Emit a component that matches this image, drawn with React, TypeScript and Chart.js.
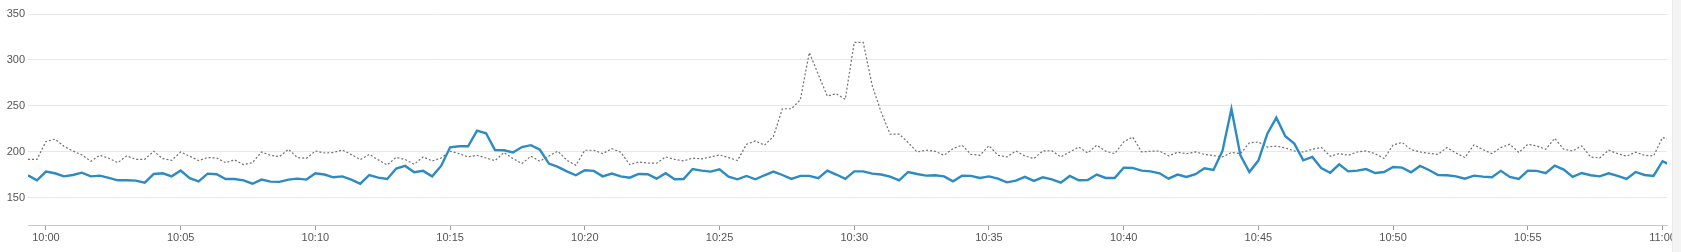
import React, { useEffect, useRef } from "react";
import { Chart, registerables } from "chart.js";

Chart.register(...registerables);

// Sample times: seconds relative to 10:00:00, one sample every 20 s starting 9:59:20
const START_SECONDS = -40;
const STEP_SECONDS = 20;

const blueValues: number[] = [
  174.2, 168.7, 178.2, 176.4, 173, 174.5, 177, 173, 173.8, 171.3,
  168.7, 168.7, 168.4, 166.2, 175.6, 176.4, 173, 179.3, 171, 167.6,
  176, 175.3, 170.2, 170.2, 168.7, 165, 169.5, 167.3, 167, 169.5,
  170.5, 169.5, 176.4, 175, 172, 173, 169.5, 165, 174.5, 171.6,
  170.2, 181.5, 184.4, 177.5, 179, 173, 184.4, 204.7, 205.8, 205.8,
  222.9, 220, 201.8, 201.5, 199, 205, 207, 202, 187, 183.3,
  178.5, 174.2, 179.6, 179, 173, 176, 173, 171.6, 175.6, 175.3,
  170.5, 176.4, 169.8, 170.2, 181, 179.3, 178.2, 180.7, 172.7, 169.8,
  173.5, 169.8, 174.2, 178.2, 174.5, 170.2, 173.5, 173.5, 171, 179.3,
  175, 170.2, 178.5, 178.5, 176, 175, 172.7, 168.7, 177.8, 175.6,
  173.8, 174.2, 173, 167.6, 173.8, 173.5, 171.3, 173, 170.5, 166.5,
  168.4, 172.4, 168, 172, 169.8, 166.2, 173.5, 168.7, 169, 175,
  171.3, 171.3, 182.5, 182.2, 179.3, 178.5, 176.4, 170.5, 175, 172.4,
  175.3, 181.8, 180, 200.7, 246.5, 196, 177.8, 190.2, 219.6, 237,
  216.7, 208.7, 190.5, 194.2, 182.2, 177, 186.2, 178.5, 179.3, 181,
  176.7, 177.8, 183.3, 182.5, 177.5, 184.4, 180, 174.5, 174.2, 173,
  170.5, 173.8, 172.7, 172, 179, 172.4, 170.2, 179.3, 179, 176.4,
  184.7, 180.4, 172.4, 176.7, 174.2, 173, 176.4, 173.5, 170.2, 177.8,
  174.5, 173.5, 189.5, 184.7,
];

const grayValues: number[] = [
  191.6, 191.6, 211, 213.5, 205.8, 200.7, 196.4, 189.5, 196, 192.7,
  188, 195.3, 191.6, 191.6, 200.4, 192.4, 190.5, 199.6, 195, 190.2,
  193.5, 193, 188, 191, 185.8, 188, 199.6, 196, 194.5, 202.5,
  193.5, 192.7, 200.7, 198.5, 199, 201.8, 196.7, 191.3, 197, 191,
  185.5, 193.8, 191.3, 186.2, 194.2, 189.8, 193, 200.4, 197.8, 194.2,
  196, 193, 190.2, 199, 192.4, 187, 195, 189.5, 195.3, 200.4,
  190.5, 185, 201.5, 201.5, 197.8, 203.3, 199.3, 185.8, 188.7, 187.6,
  187.3, 194.2, 191.6, 189.8, 193, 192, 194.2, 196.4, 193.5, 190.2,
  208, 211.6, 207, 216.5, 246.7, 246.7, 256.5, 308, 284, 260.6,
  263, 257, 319, 319, 272, 243, 219, 219, 210, 199.6,
  201.5, 200.4, 196, 203.3, 207, 197, 196, 206.5, 196, 194.2,
  200.7, 195.3, 192.4, 200.7, 201, 194.2, 199.6, 205, 198.5, 207,
  200.4, 197.8, 210.5, 216, 199.6, 200.4, 200.7, 195.3, 199.3, 197.8,
  199.6, 197, 195.6, 194.2, 199, 197.8, 209.5, 210.5, 205, 206,
  204, 200.7, 199.6, 202.5, 204.7, 195, 197.8, 196, 199.6, 200.7,
  197.8, 192.4, 207.3, 210, 202.2, 199.6, 198.2, 197, 204.4, 198.5,
  193.5, 207.3, 202.2, 197.8, 204.4, 208, 199, 208, 206.2, 202.5,
  214.5, 202.5, 200.7, 206.2, 194.2, 193, 201.5, 197.8, 195, 199.3,
  196, 195.3, 215.3, 213,
];

const xTickSeconds: number[] = [0, 300, 600, 900, 1200, 1500, 1800, 2100, 2400, 2700, 3000, 3300, 3600];
const yTickValues: number[] = [150, 200, 250, 300, 350];

const X_MIN = -40;
const X_MAX = 3610;
const Y_MIN = 120;
const Y_MAX = 350;

function fmtTime(sec: number): string {
  const total = 10 * 60 + Math.round(sec / 60);
  const h = Math.floor(total / 60);
  const m = total % 60;
  return `${h}:${m.toString().padStart(2, "0")}`;
}

export default function App() {
  const canvasRef = useRef<HTMLCanvasElement | null>(null);

  useEffect(() => {
    const canvas = canvasRef.current;
    if (!canvas) return;
    const times = blueValues.map((_, i) => START_SECONDS + STEP_SECONDS * i);
    const chart = new Chart(canvas, {
      type: "line",
      data: {
        datasets: [
          {
            label: "current",
            data: blueValues.map((v, i) => ({ x: times[i], y: v })),
            borderColor: "#2e8bc2",
            borderWidth: 2.4,
            pointRadius: 0,
            tension: 0,
            fill: false,
          },
          {
            label: "baseline",
            data: grayValues.map((v, i) => ({ x: times[i], y: v })),
            borderColor: "#707070",
            borderWidth: 1.2,
            borderDash: [2, 2],
            pointRadius: 0,
            tension: 0,
            fill: false,
          },
        ],
      },
      options: {
        animation: false,
        responsive: false,
        maintainAspectRatio: false,
        devicePixelRatio: 1,
        layout: { padding: { top: 14, right: 14, left: 0, bottom: 0 } },
        plugins: {
          legend: { display: false },
          tooltip: { enabled: false },
        },
        scales: {
          x: {
            type: "linear",
            min: X_MIN,
            max: X_MAX,
            afterBuildTicks: (scale: any) => {
              scale.ticks = xTickSeconds.map((v) => ({ value: v }));
            },
            afterFit: (scale: any) => {
              scale.height = 27;
            },
            ticks: {
              callback: (v: any) => fmtTime(Number(v)),
              color: "#555555",
              font: { size: 11, family: "'Liberation Sans', Arial, sans-serif" },
              padding: 1,
              maxRotation: 0,
              autoSkip: false,
            },
            grid: {
              drawOnChartArea: false,
              drawTicks: true,
              tickLength: 5,
              tickColor: "#999999",
            },
            border: { display: true, color: "#c8c8c8", width: 1 },
          },
          y: {
            type: "linear",
            min: Y_MIN,
            max: Y_MAX,
            afterBuildTicks: (scale: any) => {
              scale.ticks = yTickValues.map((v) => ({ value: v }));
            },
            afterFit: (scale: any) => {
              scale.width = 28;
            },
            ticks: {
              color: "#555555",
              font: { size: 11, family: "'Liberation Sans', Arial, sans-serif" },
              padding: 3,
            },
            grid: {
              color: "#e8e8e8",
              lineWidth: 1,
              drawTicks: false,
            },
            border: { display: false },
          },
        },
      },
    });
    return () => chart.destroy();
  }, []);

  return (
    <div style={{ position: "fixed", left: 0, top: 0, width: 1681, height: 252, background: "#ffffff" }}>
      <canvas ref={canvasRef} width={1681} height={252} style={{ display: "block", width: 1681, height: 252 }} />
      <div style={{ position: "absolute", left: 1672, top: 0, width: 9, height: 252, background: "#f4f4f4", borderLeft: "1px solid #ececec", boxSizing: "border-box" }} />
    </div>
  );
}
